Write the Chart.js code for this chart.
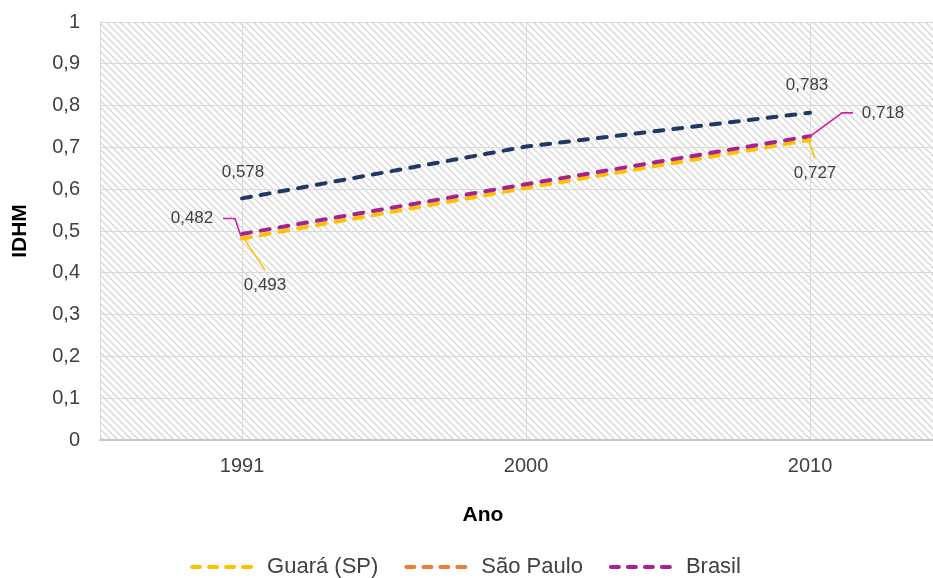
<!DOCTYPE html>
<html>
<head>
<meta charset="utf-8">
<script src="https://cdn.jsdelivr.net/npm/chart.js@4/dist/chart.umd.min.js"></script>
<style>
  html, body { margin: 0; padding: 0; background: #fff; overflow: hidden; }
  #wrap { width: 933px; height: 578px; }
</style>
</head>
<body>
<div id="wrap"><canvas id="idhmChart"></canvas></div>
<script>
// Dados (IDHM)
const anos = ['1991', '2000', '2010'];
const guara = [0.482, 0.603, 0.718];
const saoPaulo = [0.578, 0.702, 0.783];
const brasil = [0.493, 0.612, 0.727];
const nomes = ['Guará (SP)', 'São Paulo', 'Brasil'];

const fmt = v => String(Math.round(v * 1000) / 1000).replace('.', ',');
const toPoints = arr => arr.map((v, i) => ({ x: i, y: v }));
const FONTE = '"Liberation Sans", Arial, sans-serif';

// fundo hachurado
function hatch() {
    const s = 7;
    const c = document.createElement('canvas');
    c.width = s; c.height = s;
    const g = c.getContext('2d');
    g.fillStyle = '#ffffff';
    g.fillRect(0, 0, s, s);
    g.strokeStyle = '#d6d6d6';
    g.lineWidth = 1.3;
    [-s, 0, s].forEach(k => {
        g.beginPath();
        g.moveTo(k - 1, -1);
        g.lineTo(k + s + 1, s + 1);
        g.stroke();
    });
    return c;
}

const fundoPlugin = {
    id: 'fundo',
    beforeDraw(chart) {
        const { ctx, chartArea: a } = chart;
        ctx.save();
        ctx.fillStyle = ctx.createPattern(hatch(), 'repeat');
        ctx.fillRect(a.left, a.top, a.right - a.left, a.bottom - a.top);
        ctx.restore();
    }
};

// rótulos com linhas de chamada
const rotulosPlugin = {
    id: 'rotulos',
    afterDatasetsDraw(chart) {
        const ctx = chart.ctx;
        const pt = (ds, i) => chart.getDatasetMeta(ds).data[i];
        const magenta = '#D01FA6', amarelo = '#FFC000';
        const line = (color, pts) => {
            ctx.save();
            ctx.strokeStyle = color;
            ctx.lineWidth = 1.6;
            ctx.beginPath();
            ctx.moveTo(pts[0][0], pts[0][1]);
            pts.slice(1).forEach(p => ctx.lineTo(p[0], p[1]));
            ctx.stroke();
            ctx.restore();
        };
        const text = (t, x, y) => {
            ctx.save();
            ctx.font = '17px ' + FONTE;
            ctx.fillStyle = '#404040';
            ctx.textAlign = 'center';
            ctx.textBaseline = 'middle';
            ctx.fillText(t, x, y);
            ctx.restore();
        };
        // São Paulo
        let p = pt(1, 0); text(fmt(saoPaulo[0]), p.x + 1, p.y - 26);
        p = pt(1, 2); text(fmt(saoPaulo[2]), p.x - 3, p.y - 27);
        // Guará
        p = pt(0, 0);
        line(magenta, [[p.x - 19, p.y - 20], [p.x - 7, p.y - 20], [p.x - 1, p.y - 2]]);
        text(fmt(guara[0]), p.x - 50, p.y - 20);
        p = pt(0, 2);
        line(magenta, [[p.x - 2, p.y - 2], [p.x + 32, p.y - 27], [p.x + 43, p.y - 27]]);
        text(fmt(guara[2]), p.x + 73, p.y - 27);
        // Brasil
        p = pt(2, 0);
        line(amarelo, [[p.x, p.y + 2], [p.x + 23, p.y + 36]]);
        text(fmt(brasil[0]), p.x + 23, p.y + 51);
        p = pt(2, 2);
        line(amarelo, [[p.x - 2, p.y + 2], [p.x + 5, p.y + 22]]);
        text(fmt(brasil[2]), p.x + 5, p.y + 37);
    }
};

// título do eixo X
const anoPlugin = {
    id: 'ano',
    afterDraw(chart) {
        const ctx = chart.ctx;
        ctx.save();
        ctx.font = 'bold 21px ' + FONTE;
        ctx.fillStyle = '#000';
        ctx.textAlign = 'center';
        ctx.textBaseline = 'middle';
        ctx.fillText('Ano', 483, 515);
        ctx.restore();
    }
};

const legendColors = ['#FFC000', '#ED7D31', '#A5238F'];

const ctx = document.getElementById('idhmChart').getContext('2d');
new Chart(ctx, {
    type: 'line',
    data: {
        datasets: [
            { label: nomes[0], data: toPoints(guara), borderColor: '#FFC000', order: 2 },
            { label: nomes[1], data: toPoints(saoPaulo), borderColor: '#1F3864', order: 1 },
            { label: nomes[2], data: toPoints(brasil), borderColor: '#A5238F', order: 0 }
        ]
    },
    options: {
        responsive: true,
        maintainAspectRatio: false,
        animation: false,
        layout: { padding: { top: 22, left: 0, right: 0, bottom: 0 } },
        elements: {
            line: { borderWidth: 4, borderDash: [9, 10], borderCapStyle: 'round', tension: 0, fill: false },
            point: { radius: 0, hoverRadius: 0 }
        },
        scales: {
            x: {
                type: 'linear',
                min: -0.5,
                max: 2.433,
                afterBuildTicks: s => { s.ticks = anos.map((a, i) => ({ value: i })); },
                afterFit: s => { s.height = 88; },
                ticks: {
                    callback: v => anos[v],
                    padding: 14,
                    color: '#404040',
                    font: { family: FONTE, size: 20 }
                },
                grid: { color: '#d9d9d9', drawTicks: false },
                border: { color: '#c8c8c8', width: 2 }
            },
            y: {
                min: 0,
                max: 1,
                afterFit: s => { s.width = 100; s.paddingTop = 0; s.paddingBottom = 0; },
                ticks: {
                    stepSize: 0.1,
                    padding: 20,
                    color: '#404040',
                    callback: v => fmt(v),
                    font: { family: FONTE, size: 20 }
                },
                grid: { color: '#d9d9d9', drawTicks: false },
                border: { color: '#d9d9d9' },
                title: {
                    display: true,
                    text: 'IDHM',
                    color: '#000',
                    padding: { top: 8, bottom: 4 },
                    font: { family: FONTE, size: 21, weight: 'bold' }
                }
            }
        },
        plugins: {
            tooltip: { enabled: false },
            legend: {
                position: 'bottom',
                maxHeight: 50,
                labels: {
                    usePointStyle: true,
                    pointStyleWidth: 64,
                    padding: 28,
                    color: '#404040',
                    font: { family: FONTE, size: 22 },
                    generateLabels: chart => nomes.map((n, i) => ({
                        text: n,
                        datasetIndex: i,
                        fillStyle: legendColors[i],
                        strokeStyle: legendColors[i],
                        lineWidth: 4,
                        lineDash: [8, 9],
                        lineCap: 'round',
                        pointStyle: 'line',
                        fontColor: '#404040',
                        hidden: false
                    }))
                }
            }
        }
    },
    plugins: [fundoPlugin, rotulosPlugin, anoPlugin]
});
</script>
</body>
</html>
